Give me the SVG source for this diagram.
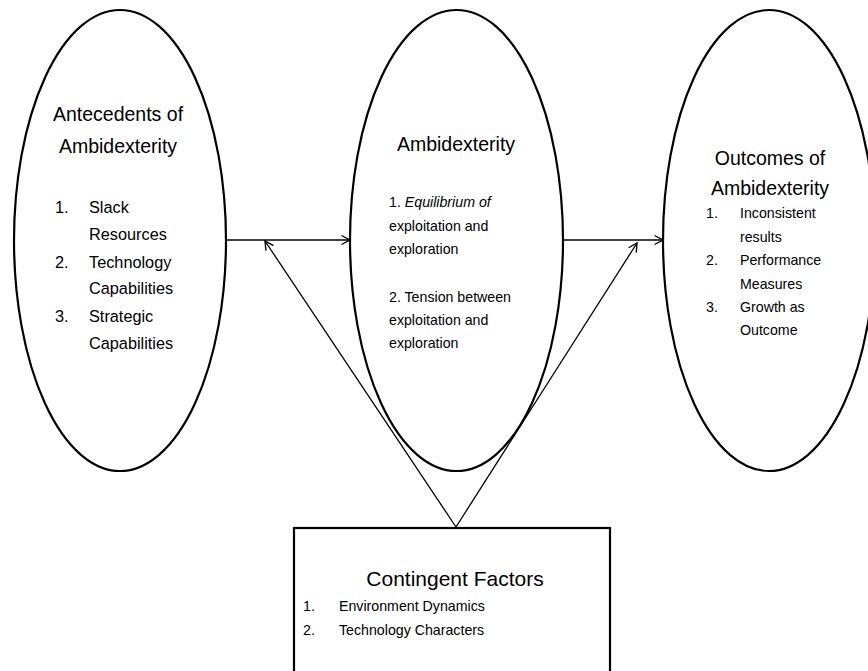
<svg xmlns="http://www.w3.org/2000/svg" width="868" height="671" viewBox="0 0 868 671">
  <style>
    .node { fill: #fff; stroke: #000; stroke-width: 2.2; }
    .t { font-family: "Liberation Sans", Arial, sans-serif; fill: #000; }
    .title { font-size: 19.5px; }
    .item { font-size: 14.2px; }
    .left-item { font-size: 16.3px; }
    .conn { stroke: #000; stroke-width: 1.3; fill: none; marker-end: url(#arrow); }
  </style>
  <defs>
    <marker id="arrow" viewBox="0 0 12 12" refX="10" refY="6" markerWidth="12" markerHeight="12" markerUnits="userSpaceOnUse" orient="auto">
      <path d="M1.5,1.5 L10,6 L1.5,10.5" fill="none" stroke="#000" stroke-width="1.4"/>
    </marker>
  </defs>
  <rect width="868" height="671" fill="#fff"/>

  <g id="antecedents">
    <ellipse class="node" cx="120" cy="240.5" rx="106" ry="230.5"/>
    <text class="t title" x="118" y="121" text-anchor="middle">Antecedents of</text>
    <text class="t title" x="118" y="153" text-anchor="middle">Ambidexterity</text>
    <text class="t left-item" x="55" y="213">1.</text>
    <text class="t left-item" x="89" y="213">Slack</text>
    <text class="t left-item" x="89" y="240">Resources</text>
    <text class="t left-item" x="55" y="268">2.</text>
    <text class="t left-item" x="89" y="268">Technology</text>
    <text class="t left-item" x="89" y="294">Capabilities</text>
    <text class="t left-item" x="55" y="322">3.</text>
    <text class="t left-item" x="89" y="322">Strategic</text>
    <text class="t left-item" x="89" y="349">Capabilities</text>
  </g>

  <g id="ambidexterity">
    <ellipse class="node" cx="456.5" cy="240.5" rx="106.5" ry="230.5"/>
    <text class="t title" x="456" y="151" text-anchor="middle">Ambidexterity</text>
    <text class="t item" x="389" y="207">1. <tspan font-style="italic">Equilibrium of</tspan></text>
    <text class="t item" x="389" y="231">exploitation and</text>
    <text class="t item" x="389" y="254">exploration</text>
    <text class="t item" x="389" y="302">2. Tension between</text>
    <text class="t item" x="389" y="325">exploitation and</text>
    <text class="t item" x="389" y="348">exploration</text>
  </g>

  <g id="outcomes">
    <ellipse class="node" cx="769" cy="240.5" rx="106" ry="230.5"/>
    <text class="t title" x="770" y="165" text-anchor="middle">Outcomes of</text>
    <text class="t title" x="770" y="195" text-anchor="middle">Ambidexterity</text>
    <text class="t item" x="706" y="218">1.</text>
    <text class="t item" x="740" y="218">Inconsistent</text>
    <text class="t item" x="740" y="242">results</text>
    <text class="t item" x="706" y="265">2.</text>
    <text class="t item" x="740" y="265">Performance</text>
    <text class="t item" x="740" y="289">Measures</text>
    <text class="t item" x="706" y="312">3.</text>
    <text class="t item" x="740" y="312">Growth as</text>
    <text class="t item" x="740" y="335">Outcome</text>
  </g>

  <g id="contingent-factors">
    <rect class="node" x="294" y="528" width="316" height="150"/>
    <text class="t" font-size="21" x="455" y="586" text-anchor="middle">Contingent Factors</text>
    <text class="t item" x="303" y="611">1.</text>
    <text class="t item" x="339" y="611">Environment Dynamics</text>
    <text class="t item" x="303" y="635">2.</text>
    <text class="t item" x="339" y="635">Technology Characters</text>
  </g>

  <g id="connectors">
    <line class="conn" x1="226" y1="240" x2="350" y2="240"/>
    <line class="conn" x1="563" y1="240" x2="663" y2="240"/>
    <line class="conn" x1="456" y1="527" x2="265" y2="241"/>
    <line class="conn" x1="456" y1="527" x2="637" y2="243"/>
  </g>
</svg>
